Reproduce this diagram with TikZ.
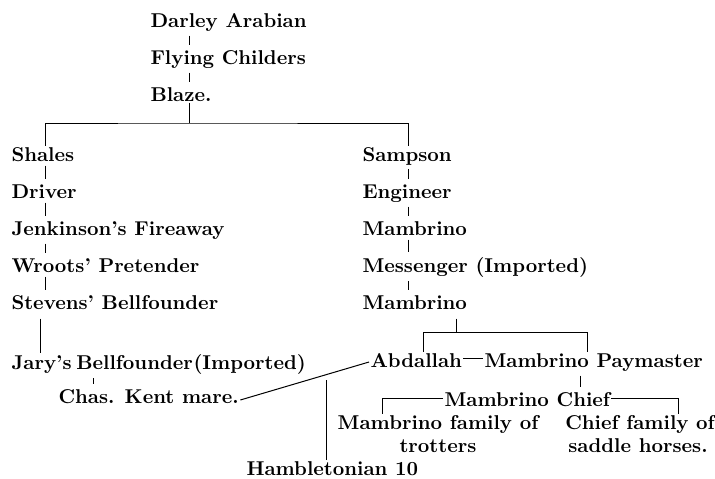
\documentclass[tikz,border=0pt]{standalone}
\usetikzlibrary{positioning}

\begin{document}
\begin{tikzpicture}[x=0.5pt,y=-0.5pt,line width=0.5pt,node distance=18.5pt,
  horse/.style={font=\bfseries,inner sep=0.5pt,anchor=base west},
  family/.style={font=\bfseries,inner sep=0.5pt,anchor=base},
  tick/.style={shorten <=1.5pt,shorten >=2pt}]
  \useasboundingbox (0,0) rectangle (715,478);
  % the line down from the Arabian
  \node[horse] (darley) at (149,27) {Darley Arabian};
  \node[below=of darley.base west, horse] (childers) {Flying Childers};
  \node[below=of childers.base west, horse] (blaze) {Blaze.};
  % left branch
  \node[horse] (shales) at (10,161) {Shales};
  \node[below=of shales.base west, horse] (driver) {Driver};
  \node[below=of driver.base west, horse] (fireaway) {Jenkinson's Fireaway};
  \node[below=of fireaway.base west, horse] (pretender) {Wroots' Pretender};
  \node[below=of pretender.base west, horse] (stevens) {Stevens' Bellfounder};
  \node[below=30pt of stevens.base west, horse] (jary) {Jary's\hspace{-1.5pt} Bellfounder\hspace{-3.5pt} (Imported)};
  \node[horse] (kent) at (57,403) {Chas. Kent mare.};
  % right branch
  \node[horse] (sampson) at (361,161) {Sampson};
  \node[below=of sampson.base west, horse] (engineer) {Engineer};
  \node[below=of engineer.base west, horse] (mambrinoA) {Mambrino};
  \node[below=of mambrinoA.base west, horse] (messenger) {Messenger (Imported)};
  \node[below=of messenger.base west, horse] (mambrinoB) {Mambrino};
  \node[horse] (abdallah) at (369,367) {Abdallah};
  \node[horse] (paymaster) at (483,367) {Mambrino Paymaster};
  \node[horse] (chief) at (443,406) {Mambrino Chief};
  \node[family] (trotA) at (438,429) {Mambrino family of};
  \node[family] (trotB) at (438,452) {trotters};
  \node[family] (saddleA) at (640,429) {Chief family of};
  \node[family] (saddleB) at (638,452) {saddle horses.};
  \node[horse] (hamb) at (245,475) {Hambletonian 10};

  \coordinate (split) at (189,123);
  \coordinate (splitB) at (456,332);
  \coordinate (foal) at (326,380);

  \draw[tick] (darley.south -| split) -- (childers.north -| split);
  \draw[tick] (childers.south -| split) -- (blaze.north -| split);
  \draw (blaze.south -| split) -- (split);
  \draw (shales.north -| 45,0) |- (split) -| (sampson.north -| 408,0);
  \draw[tick] (shales.south -| 45,0) -- (driver.north -| 45,0);
  \draw[tick] (driver.south -| 45,0) -- (fireaway.north -| 45,0);
  \draw[tick] (fireaway.south -| 45,0) -- (pretender.north -| 45,0);
  \draw[tick] (pretender.south -| 45,0) -- (stevens.north -| 45,0);
  \draw[shorten <=4pt] (stevens.south -| 40,0) -- (jary.north -| 40,0);
  \draw[tick] (jary.south -| 93,0) -- (kent.north -| 93,0);
  \draw[tick] (sampson.south -| 408,0) -- (engineer.north -| 408,0);
  \draw[tick] (engineer.south -| 408,0) -- (mambrinoA.north -| 408,0);
  \draw[tick] (mambrinoA.south -| 408,0) -- (messenger.north -| 408,0);
  \draw[tick] (messenger.south -| 408,0) -- (mambrinoB.north -| 408,0);
  \draw[shorten <=4pt] (mambrinoB.south -| splitB) -- (splitB);
  \draw (abdallah.north -| 423,0) |- (splitB) -| (paymaster.north -| 587,0);
  \draw ([yshift=4.5pt]abdallah.base east) -- ([yshift=4.5pt]paymaster.base west);
  \draw[tick] (paymaster.south -| 580,0) -- (chief.north -| 580,0);
  \draw ([yshift=4pt]chief.base west) -| (trotA.north -| 382,0);
  \draw ([yshift=4pt]chief.base east) -| (saddleA.north -| 678,0);
  \draw ([yshift=1.5pt]kent.base east) -- ([yshift=2.5pt]abdallah.base west);
  \draw (foal) -- (hamb.north -| foal);
\end{tikzpicture}
\end{document}
